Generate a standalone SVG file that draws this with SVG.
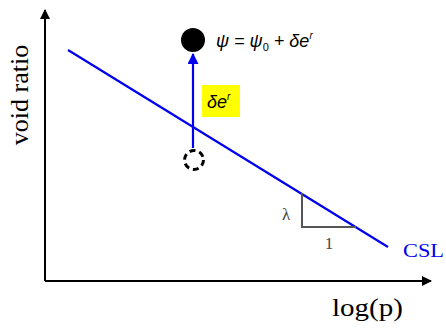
<svg xmlns="http://www.w3.org/2000/svg" width="446" height="331" viewBox="0 0 446 331">
<style>
.ax{stroke:#000;stroke-width:2;fill:none}
.blue{stroke:#0000ee;stroke-width:2.2;fill:none}
.tri{stroke:#555;stroke-width:2;fill:none}
.tm{font-family:"Liberation Serif",serif}
.ar{font-family:"Liberation Sans",sans-serif;font-style:italic}
</style>
<defs>
<marker id="ak" viewBox="0 0 10 10" refX="9" refY="5" markerWidth="5" markerHeight="5" orient="auto" markerUnits="strokeWidth"><path d="M0,0L10,5L0,10z" fill="#000"/></marker>
<marker id="ab" viewBox="0 0 10 10" refX="9" refY="5" markerWidth="5" markerHeight="5" orient="auto" markerUnits="strokeWidth"><path d="M0,0L10,5L0,10z" fill="#0000ee"/></marker>
</defs>
<rect width="446" height="331" fill="#fff"/>
<g id="axes">
<path class="ax" d="M45,281V10" marker-end="url(#ak)"/>
<path class="ax" d="M45,281H431" marker-end="url(#ak)"/>
<text class="tm" x="332" y="316" font-size="25" textLength="71" lengthAdjust="spacingAndGlyphs">log(p)</text>
<text class="tm" font-size="26" text-anchor="middle" transform="translate(28,95) rotate(-90)">void ratio</text>
</g>
<g id="csl">
<path class="blue" d="M68,50L388,247"/>
<text class="tm" x="403" y="257" font-size="19" fill="#0000ee" textLength="41" lengthAdjust="spacingAndGlyphs">CSL</text>
</g>
<g id="slope">
<path class="tri" d="M302,193V227H356"/>
<text class="tm" x="286" y="220" font-size="17" text-anchor="middle" fill="#444">λ</text>
<text class="tm" x="329" y="249" font-size="17" text-anchor="middle" fill="#444">1</text>
</g>
<g id="connectors">
<path class="blue" d="M193,148V54" marker-end="url(#ab)"/>
</g>
<g id="state">
<circle cx="193" cy="40" r="12" fill="#000"/>
<text class="ar" x="216" y="47" font-size="18">ψ = ψ<tspan font-size="11" dy="4" font-style="normal">0</tspan><tspan dy="-4"> + δe</tspan><tspan font-size="10" dy="-8">r</tspan></text>
</g>
<g id="initial">
<circle cx="194" cy="160" r="9.5" fill="none" stroke="#000" stroke-width="3" stroke-dasharray="6 4"/>
</g>
<g id="delta">
<rect x="202" y="85" width="38" height="32" fill="#ffff00"/>
<text class="ar" x="207" y="108" font-size="18">δe<tspan font-size="10" dy="-8">r</tspan></text>
</g>
</svg>
